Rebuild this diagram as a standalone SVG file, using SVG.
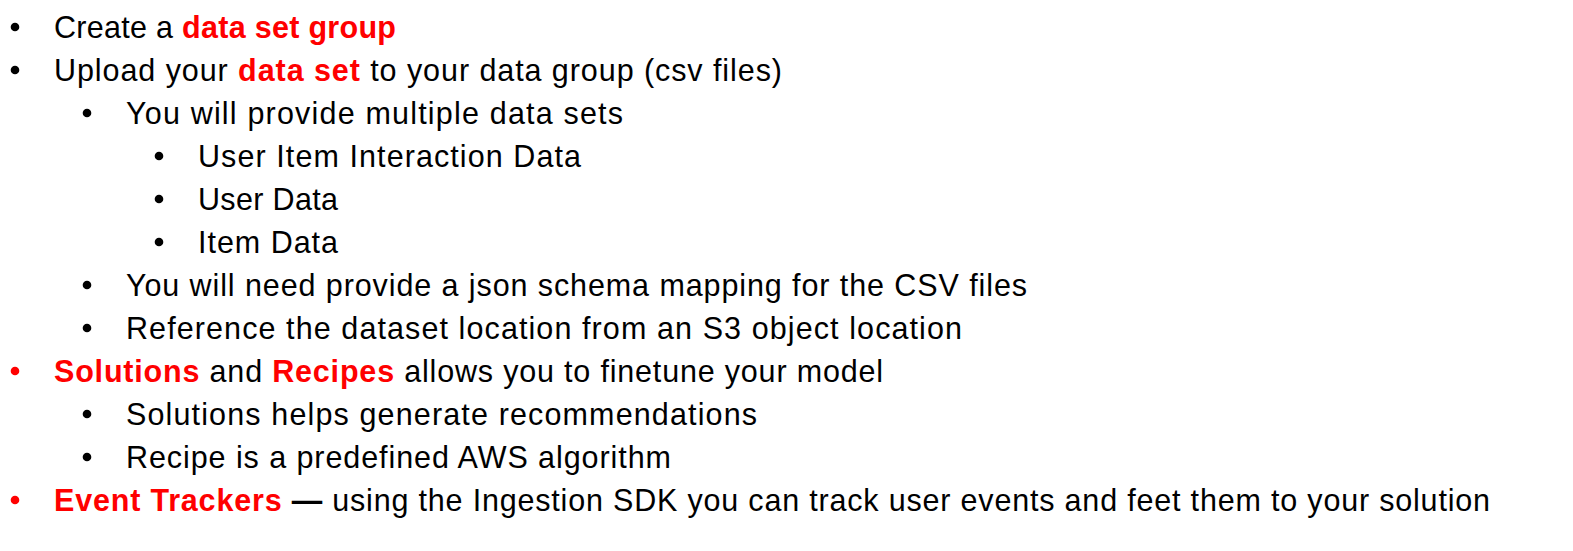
<svg xmlns="http://www.w3.org/2000/svg" width="1573" height="551" viewBox="0 0 1573 551">
<style>
text{font-family:"Liberation Sans",Arial,sans-serif;font-size:30.5px;fill:#000}
.r{fill:#FF0000;font-weight:bold}
.b{font-weight:bold}
.bul{fill:#000}
.bulr{fill:#FF0000}
</style>
<rect width="1573" height="551" fill="#FFFFFF"/>
<g id="bullets">
<circle class="bul" cx="15" cy="27" r="4.3"/>
<circle class="bul" cx="15" cy="70" r="4.3"/>
<circle class="bul" cx="87" cy="113" r="4.3"/>
<circle class="bul" cx="159" cy="156" r="4.3"/>
<circle class="bul" cx="159" cy="199" r="4.3"/>
<circle class="bul" cx="159" cy="242" r="4.3"/>
<circle class="bul" cx="87" cy="285" r="4.3"/>
<circle class="bul" cx="87" cy="328" r="4.3"/>
<circle class="bulr" cx="15" cy="371" r="4.3"/>
<circle class="bul" cx="87" cy="414" r="4.3"/>
<circle class="bul" cx="87" cy="457" r="4.3"/>
<circle class="bulr" cx="15" cy="500" r="4.3"/>
</g>
<g id="lines">
<text x="54" y="38" textLength="342" lengthAdjust="spacing">Create a <tspan class="r">data set group</tspan></text>
<text x="54" y="81" textLength="728" lengthAdjust="spacing">Upload your <tspan class="r">data set</tspan> to your data group (csv files)</text>
<text x="126" y="124" textLength="497" lengthAdjust="spacing">You will provide multiple data sets</text>
<text x="198" y="167" textLength="383" lengthAdjust="spacing">User Item Interaction Data</text>
<text x="198" y="210" textLength="140" lengthAdjust="spacing">User Data</text>
<text x="198" y="253" textLength="140" lengthAdjust="spacing">Item Data</text>
<text x="126" y="296" textLength="901" lengthAdjust="spacing">You will need provide a json schema mapping for the CSV files</text>
<text x="126" y="339" textLength="836" lengthAdjust="spacing">Reference the dataset location from an S3 object location</text>
<text x="54" y="382" textLength="829" lengthAdjust="spacing"><tspan class="r">Solutions</tspan> and <tspan class="r">Recipes</tspan> allows you to finetune your model</text>
<text x="126" y="425" textLength="631" lengthAdjust="spacing">Solutions helps generate recommendations</text>
<text x="126" y="468" textLength="545" lengthAdjust="spacing">Recipe is a predefined AWS algorithm</text>
<text x="54" y="511" textLength="1436" lengthAdjust="spacing"><tspan class="r">Event Trackers</tspan> <tspan class="b">—</tspan> using the Ingestion SDK you can track user events and feet them to your solution</text>
</g>
</svg>
